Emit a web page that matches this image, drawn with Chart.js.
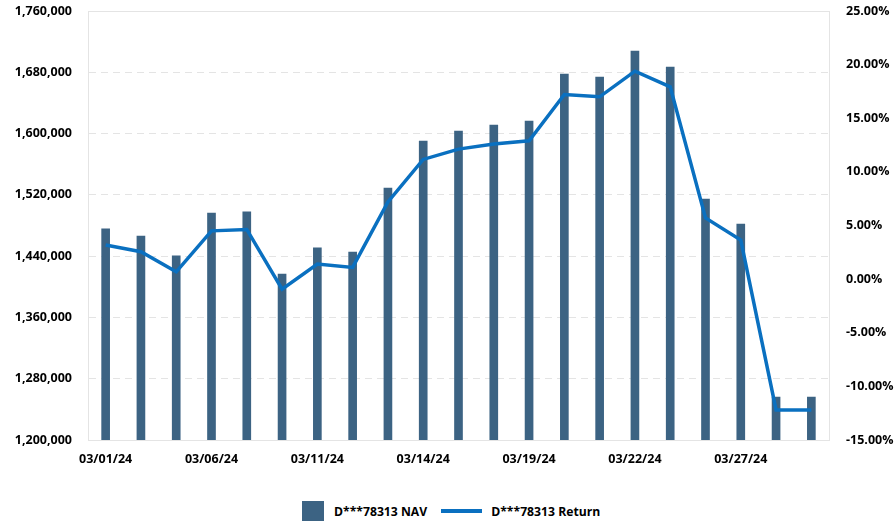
<!DOCTYPE html>
<html>
<head>
<meta charset="utf-8">
<script src="https://cdn.jsdelivr.net/npm/chart.js@4.4.1/dist/chart.umd.min.js"></script>
<style>
  html, body { margin: 0; padding: 0; background: #fff; }
  body { width: 896px; height: 522px; position: relative; overflow: hidden; font-family: 'Open Sans', sans-serif; }
  #wrap { position: absolute; left: 0; top: 0; width: 896px; height: 480px; }
  #legend { position: absolute; left: 302px; top: 501px; display: flex; align-items: center; font-size: 12.2px; font-weight: 700; color: #000; }
  #legend .box { width: 22px; height: 20px; background: #3c6383; margin-right: 10px; }
  #legend .line { width: 41px; height: 4px; background: #0a70c0; margin: 0 9px 0 14px; }
</style>
</head>
<body>
<div id="wrap"><canvas id="chart"></canvas></div>
<div id="legend">
  <span class="box"></span><span>D***78313 NAV</span>
  <span class="line"></span><span>D***78313 Return</span>
</div>
<script>
const dates = ['03/01/24', '03/04/24', '03/05/24', '03/06/24', '03/07/24', '03/08/24', '03/11/24',
    '03/12/24', '03/13/24', '03/14/24', '03/15/24', '03/18/24', '03/19/24', '03/20/24',
    '03/21/24', '03/22/24', '03/25/24', '03/26/24', '03/27/24', '03/28/24', '03/29/24'];
const navValues = [1475500, 1466300, 1440500, 1496300, 1497700, 1416700, 1450700,
    1445400, 1529000, 1590300, 1603400, 1611200, 1616400, 1677800,
    1673900, 1707800, 1686900, 1514600, 1482000, 1256100, 1256100];
const returnValues = [3.18, 2.55, 0.68, 4.5, 4.63, -0.93, 1.4,
    1.09, 7.2, 11.16, 12.12, 12.59, 12.9, 17.22,
    17.0, 19.39, 17.93, 5.7, 3.64, -12.2, -12.2];

const navColor = '#3c6383';
const returnColor = '#0a70c0';
const gridColor = '#e4e4e4';
const tickFont = { family: "'Open Sans', sans-serif", size: 12.5, weight: '700' };

// keep the plot box where the reference has it
const noPad = s => { s.paddingTop = 0; s.paddingBottom = 0; };

const ctx = document.getElementById('chart').getContext('2d');
new Chart(ctx, {
    type: 'bar',
    data: {
        labels: dates,
        datasets: [
            {
                type: 'line',
                label: 'D***78313 Return',
                data: returnValues,
                yAxisID: 'yRet',
                borderColor: returnColor,
                backgroundColor: returnColor,
                borderWidth: 3.5,
                tension: 0,
                pointRadius: 0,
                order: 0
            },
            {
                label: 'D***78313 NAV',
                data: navValues,
                yAxisID: 'yNav',
                backgroundColor: navColor,
                barThickness: 8,
                order: 1
            }
        ]
    },
    options: {
        responsive: true,
        maintainAspectRatio: false,
        animation: false,
        layout: { padding: { top: 11, left: 0, right: 0, bottom: 0 } },
        plugins: {
            legend: { display: false },
            tooltip: { enabled: false }
        },
        scales: {
            x: {
                offset: true,
                grid: { display: false, drawTicks: false },
                border: { display: true, color: gridColor },
                ticks: {
                    autoSkip: false,
                    maxRotation: 0,
                    padding: 12,
                    color: '#000',
                    font: tickFont,
                    callback: (v, i) => (i % 3 === 0 ? dates[i] : '')
                },
                afterFit: s => { s.height = 40; s.paddingLeft = 0; s.paddingRight = 0; }
            },
            yNav: {
                position: 'left',
                min: 1200000,
                max: 1760000,
                grid: { color: gridColor, drawTicks: false },
                border: {
                    display: true,
                    color: gridColor,
                    dash: c => (c.tick && (c.tick.value === 1760000 || c.tick.value === 1200000) ? [] : [7, 5])
                },
                ticks: {
                    stepSize: 80000,
                    padding: 16,
                    color: '#000',
                    font: tickFont,
                    callback: v => v.toLocaleString('en-US')
                },
                afterFit: s => { s.width = 88; noPad(s); }
            },
            yRet: {
                position: 'right',
                min: -15,
                max: 25,
                grid: { display: false, drawTicks: false },
                border: { display: true, color: gridColor },
                ticks: {
                    stepSize: 5,
                    padding: 17,
                    color: '#000',
                    font: tickFont,
                    callback: v => v.toFixed(2) + '%'
                },
                afterFit: s => { s.width = 67; noPad(s); }
            }
        }
    }
});
</script>
</body>
</html>
